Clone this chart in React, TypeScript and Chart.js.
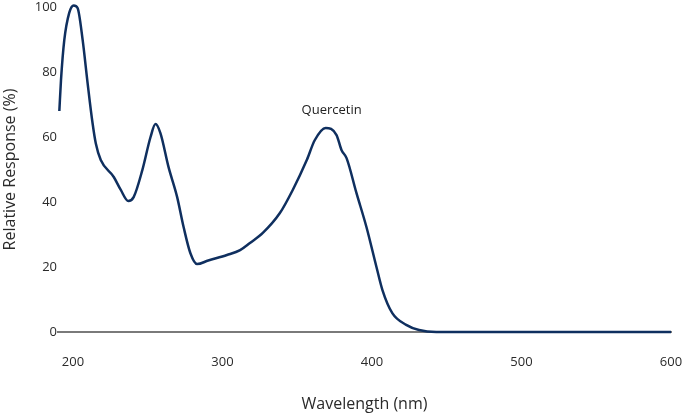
import React, { useEffect, useRef } from "react";
import { Chart, registerables } from "chart.js";

Chart.register(...registerables);

const wavelengths = [190.9, 192, 194.2, 197.5, 200.5, 203.1, 206.5, 209.8, 213.1, 215.3, 218.6, 227.3, 232, 237, 240.6, 246.4, 251.9, 255.2, 258.5, 263.9, 269.7, 274, 278.5, 283, 290.5, 303, 311.8, 318.4, 327, 338.4, 347, 356.4, 361.7, 369, 376.3, 379.6, 383, 389.6, 396.3, 403, 407, 413.6, 422.9, 431.5, 443, 470, 500, 550, 600];
const responses = [68, 77.5, 89.8, 98.2, 100.5, 99.7, 89.8, 76.6, 64.3, 58, 52.9, 47.7, 43.7, 40.3, 41.5, 49.8, 60, 64, 61.2, 50.8, 41.5, 32.3, 24.3, 20.9, 22, 23.7, 25.2, 27.4, 30.5, 36.6, 43.7, 52.9, 59, 62.8, 60.6, 56, 53.5, 42.8, 32.3, 20, 12.9, 5.8, 2.2, 0.6, 0, 0, 0, 0, 0];
const xTicks = [200, 300, 400, 500, 600];
const seriesLabel = "Quercetin";
const labelAnchor = { x: 373, y: 68.3 };

export default function App() {
  const ref = useRef<HTMLCanvasElement>(null);
  useEffect(() => {
    const canvas = ref.current!;
    const labelPlugin = {
      id: "peakLabel",
      afterDatasetsDraw(chart: any) {
        const { ctx, scales } = chart;
        const px = scales.x.getPixelForValue(labelAnchor.x);
        const py = scales.y.getPixelForValue(labelAnchor.y);
        ctx.save();
        ctx.font = "13px 'Open Sans'";
        ctx.fillStyle = "#222";
        ctx.textAlign = "center";
        ctx.textBaseline = "middle";
        ctx.fillText(seriesLabel, px, py);
        ctx.restore();
      },
    };
    const chart = new Chart(canvas, {
      type: "line",
      data: {
        datasets: [
          {
            label: seriesLabel,
            data: wavelengths.map((w, i) => ({ x: w, y: responses[i] })),
            borderColor: "#0f2f5f",
            borderWidth: 2.5,
            pointRadius: 0,
            cubicInterpolationMode: "monotone",
            fill: false,
            clip: 6,
          },
        ],
      },
      options: {
        responsive: false,
        animation: false,
        layout: { padding: { top: 7, right: 14, bottom: 0, left: 0 } },
        plugins: { legend: { display: false }, tooltip: { enabled: false } },
        scales: {
          x: {
            type: "linear",
            min: 190,
            max: 600,
            afterBuildTicks: (scale: any) => {
              scale.ticks = xTicks.map((v) => ({ value: v }));
            },
            afterFit: (scale: any) => {
              scale.height = 84;
              scale.paddingLeft = 0;
              scale.paddingRight = 0;
            },
            grid: { display: false, drawTicks: false },
            border: { display: true, color: "#7a7a7a", width: 2 },
            ticks: {
              padding: 22,
              color: "#2a2a2a",
              font: { family: "'Open Sans'", size: 13 },
              maxRotation: 0,
            },
            title: {
              display: true,
              text: "Wavelength (nm)",
              color: "#2a2a2a",
              font: { family: "'Open Sans'", size: 16 },
              padding: { top: 0, bottom: 2 },
            },
          },
          y: {
            min: 0,
            max: 100,
            afterFit: (scale: any) => {
              scale.width = 58;
              scale.paddingTop = 0;
              scale.paddingBottom = 0;
            },
            grid: { display: false, drawTicks: false },
            border: { display: false },
            ticks: {
              stepSize: 20,
              padding: 1,
              color: "#2a2a2a",
              font: { family: "'Open Sans'", size: 13 },
            },
            title: {
              display: true,
              text: "Relative Response (%)",
              color: "#2a2a2a",
              font: { family: "'Open Sans'", size: 16 },
              padding: { top: 1, bottom: 0 },
            },
          },
        },
      },
      plugins: [labelPlugin],
    } as any);
    return () => chart.destroy();
  }, []);
  return (
    <div style={{ position: "absolute", left: 0, top: 0, width: 685, height: 416 }}>
      <canvas ref={ref} width={685} height={416} style={{ width: 685, height: 416 }} />
    </div>
  );
}
